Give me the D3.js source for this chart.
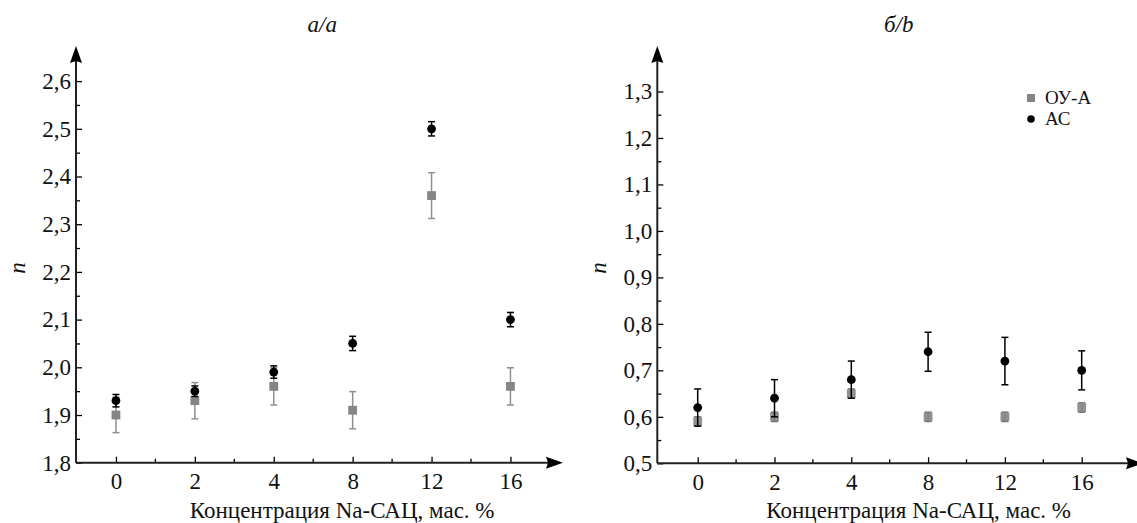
<!DOCTYPE html>
<html>
<head>
<meta charset="utf-8">
<script src="https://cdn.jsdelivr.net/npm/d3@7"></script>
<style>
  html, body { margin: 0; padding: 0; background: #fff; }
  svg text { font-family: "Liberation Serif", "Times New Roman", Tinos, Times, "DejaVu Serif", serif; }
</style>
</head>
<body>
<div id="chart"></div>
<script>
// ── data ───────────────────────────────────────────────────────────────
const concentrations = ["0", "2", "4", "8", "12", "16"];

// panel a: n for ОУ-А (grey squares) and АС (black circles)
const ouA_a    = [1.90, 1.93, 1.96, 1.91, 2.36, 1.96];
const ouA_aErr = [0.037, 0.038, 0.039, 0.039, 0.048, 0.039];
const ac_a     = [1.93, 1.95, 1.99, 2.05, 2.50, 2.10];
const ac_aErr  = [0.013, 0.011, 0.013, 0.015, 0.015, 0.015];

// panel b
const ouA_b    = [0.59, 0.60, 0.65, 0.60, 0.60, 0.62];
const ouA_bErr = [0.01, 0.01, 0.01, 0.01, 0.01, 0.01];
const ac_b     = [0.62, 0.64, 0.68, 0.74, 0.72, 0.70];
const ac_bErr  = [0.04, 0.04, 0.04, 0.042, 0.051, 0.042];

const yTicksA = [1.8, 1.9, 2.0, 2.1, 2.2, 2.3, 2.4, 2.5, 2.6];
const yTicksB = [0.5, 0.6, 0.7, 0.8, 0.9, 1.0, 1.1, 1.2, 1.3];

const seriesNames = ["ОУ-А", "АС"];
const xLabel = "Концентрация Na-САЦ, мас. %";
const yLabel = "n";
const titles = ["а/a", "б/b"];

// ── layout ─────────────────────────────────────────────────────────────
const W = 1137, H = 523;
const FONT = 23;
const SERIF = '"Liberation Serif", "Times New Roman", Tinos, Times, "DejaVu Serif", serif';
const GREY = "#858585", GREY_ERR = "#8f8f8f";

const panels = [
  { title: titles[0], yTicks: yTicksA, grey: ouA_a, greyErr: ouA_aErr, black: ac_a, blackErr: ac_aErr,
    axisX: 76, xr: [76.5, 549.9], yr: [462.7, 81.1], top: 46, right: 563, legend: false },
  { title: titles[1], yTicks: yTicksB, grey: ouA_b, greyErr: ouA_bErr, black: ac_b, blackErr: ac_bErr,
    axisX: 657.3, xr: [659.3, 1120.1], yr: [463.3, 91.5], top: 46, right: 1143, legend: true }
];

const svg = d3.select("#chart").append("svg")
  .attr("width", W)
  .attr("height", H)
  .attr("font-family", SERIF);

const comma = v => d3.format(".1f")(v).replace(".", ",");

panels.forEach(p => {
  const g = svg.append("g");

  const x = d3.scalePoint()
    .domain(concentrations)
    .range(p.xr)
    .padding(0.5);

  const y = d3.scaleLinear()
    .domain(d3.extent(p.yTicks))
    .range(p.yr);

  const y0 = y.range()[0];

  // minor ticks (half steps)
  const minorY = d3.range(p.yTicks.length - 1).map(i => (p.yTicks[i] + p.yTicks[i + 1]) / 2);
  const minorX = d3.range(concentrations.length - 1)
    .map(i => (x(concentrations[i]) + x(concentrations[i + 1])) / 2);

  // y axis
  const ya = g.append("g")
    .attr("transform", `translate(${p.axisX},0)`)
    .call(d3.axisLeft(y).tickValues(p.yTicks).tickSize(-6).tickPadding(5).tickFormat(comma))
    .attr("font-family", SERIF)
    .attr("font-size", FONT);
  ya.select(".domain").remove();
  ya.selectAll("line").attr("stroke-width", 1.3);
  ya.selectAll("text").attr("fill", "#111");

  const ym = g.append("g")
    .attr("transform", `translate(${p.axisX},0)`)
    .call(d3.axisLeft(y).tickValues(minorY).tickSize(-4).tickFormat(""));
  ym.select(".domain").remove();
  ym.selectAll("line").attr("stroke-width", 1.3);

  // x axis
  const xa = g.append("g")
    .attr("transform", `translate(0,${y0})`)
    .call(d3.axisBottom(x).tickSize(-6).tickPadding(10))
    .attr("font-family", SERIF)
    .attr("font-size", FONT);
  xa.select(".domain").remove();
  xa.selectAll("line").attr("stroke-width", 1.3);
  xa.selectAll("text").attr("fill", "#111");

  g.selectAll("line.xminor")
    .data(minorX)
    .join("line")
      .attr("class", "xminor")
      .attr("x1", d => d).attr("x2", d => d)
      .attr("y1", y0).attr("y2", y0 - 4)
      .attr("stroke", "#000")
      .attr("stroke-width", 1.3);

  // axis lines with arrows
  g.append("path")
    .attr("d", `M${p.axisX},${y0}V${p.top + 12}M${p.axisX},${y0}H${p.right - 12}`)
    .attr("stroke", "#222")
    .attr("stroke-width", 2)
    .attr("fill", "none");
  g.append("path")
    .attr("d", `M${p.axisX},${p.top}L${p.axisX + 6},${p.top + 17}L${p.axisX},${p.top + 15}L${p.axisX - 6},${p.top + 17}Z`)
    .attr("fill", "#000");
  g.append("path")
    .attr("d", `M${p.right},${y0}L${p.right - 17},${y0 - 6}L${p.right - 15},${y0}L${p.right - 17},${y0 + 6}Z`)
    .attr("fill", "#000");

  // data rows
  const rows = (vals, errs) => concentrations.map((c, i) => ({ c, v: vals[i], e: errs[i] }));

  function errorBars(data, color, width) {
    const eb = g.append("g");
    eb.selectAll("line.v")
      .data(data).join("line")
        .attr("x1", d => x(d.c)).attr("x2", d => x(d.c))
        .attr("y1", d => y(d.v - d.e)).attr("y2", d => y(d.v + d.e))
        .attr("stroke", color).attr("stroke-width", width);
    eb.selectAll("line.lo")
      .data(data).join("line")
        .attr("x1", d => x(d.c) - 3.5).attr("x2", d => x(d.c) + 3.5)
        .attr("y1", d => y(d.v - d.e)).attr("y2", d => y(d.v - d.e))
        .attr("stroke", color).attr("stroke-width", width);
    eb.selectAll("line.hi")
      .data(data).join("line")
        .attr("x1", d => x(d.c) - 3.5).attr("x2", d => x(d.c) + 3.5)
        .attr("y1", d => y(d.v + d.e)).attr("y2", d => y(d.v + d.e))
        .attr("stroke", color).attr("stroke-width", width);
  }

  const greyRows = rows(p.grey, p.greyErr);
  const blackRows = rows(p.black, p.blackErr);

  errorBars(greyRows, p.legend ? "#6f6f6f" : GREY_ERR, 1.5);
  g.selectAll("rect.sq")
    .data(greyRows).join("rect")
      .attr("class", "sq")
      .attr("x", d => x(d.c) - 4.4)
      .attr("y", d => y(d.v) - 4.4)
      .attr("width", 8.8).attr("height", 8.8)
      .attr("fill", GREY)
      .attr("fill-opacity", p.legend ? 0.9 : 1);

  errorBars(blackRows, "#000", 1.5);
  g.selectAll("circle.dot")
    .data(blackRows).join("circle")
      .attr("class", "dot")
      .attr("cx", d => x(d.c))
      .attr("cy", d => y(d.v))
      .attr("r", 4.4)
      .attr("fill", "#000");

  // labels
  const cx = (p.xr[0] + p.xr[1]) / 2;
  g.append("text")
    .attr("x", cx + 9).attr("y", 32)
    .attr("text-anchor", "middle")
    .attr("font-size", FONT).attr("font-style", "italic")
    .attr("fill", "#111")
    .text(p.title);

  g.append("text")
    .attr("x", cx + 29).attr("y", 517.5)
    .attr("text-anchor", "middle")
    .attr("font-size", FONT)
    .attr("fill", "#111")
    .text(xLabel);

  g.append("text")
    .attr("transform", `translate(${p.axisX - 51},268) rotate(-90)`)
    .attr("text-anchor", "middle")
    .attr("font-size", FONT).attr("font-style", "italic")
    .attr("fill", "#111")
    .text(yLabel);

  // legend
  if (p.legend) {
    const lg = g.append("g").attr("transform", "translate(1031,98)");
    lg.append("rect")
      .attr("x", -4).attr("y", -4).attr("width", 8).attr("height", 8)
      .attr("fill", GREY);
    lg.append("circle")
      .attr("cx", 0).attr("cy", 21).attr("r", 3.8)
      .attr("fill", "#000");
    lg.selectAll("text")
      .data(seriesNames).join("text")
        .attr("x", 14)
        .attr("y", (d, i) => i * 21)
        .attr("dy", "0.33em")
        .attr("font-size", 19)
        .attr("fill", "#111")
        .text(d => d);
  }
});
</script>
</body>
</html>
